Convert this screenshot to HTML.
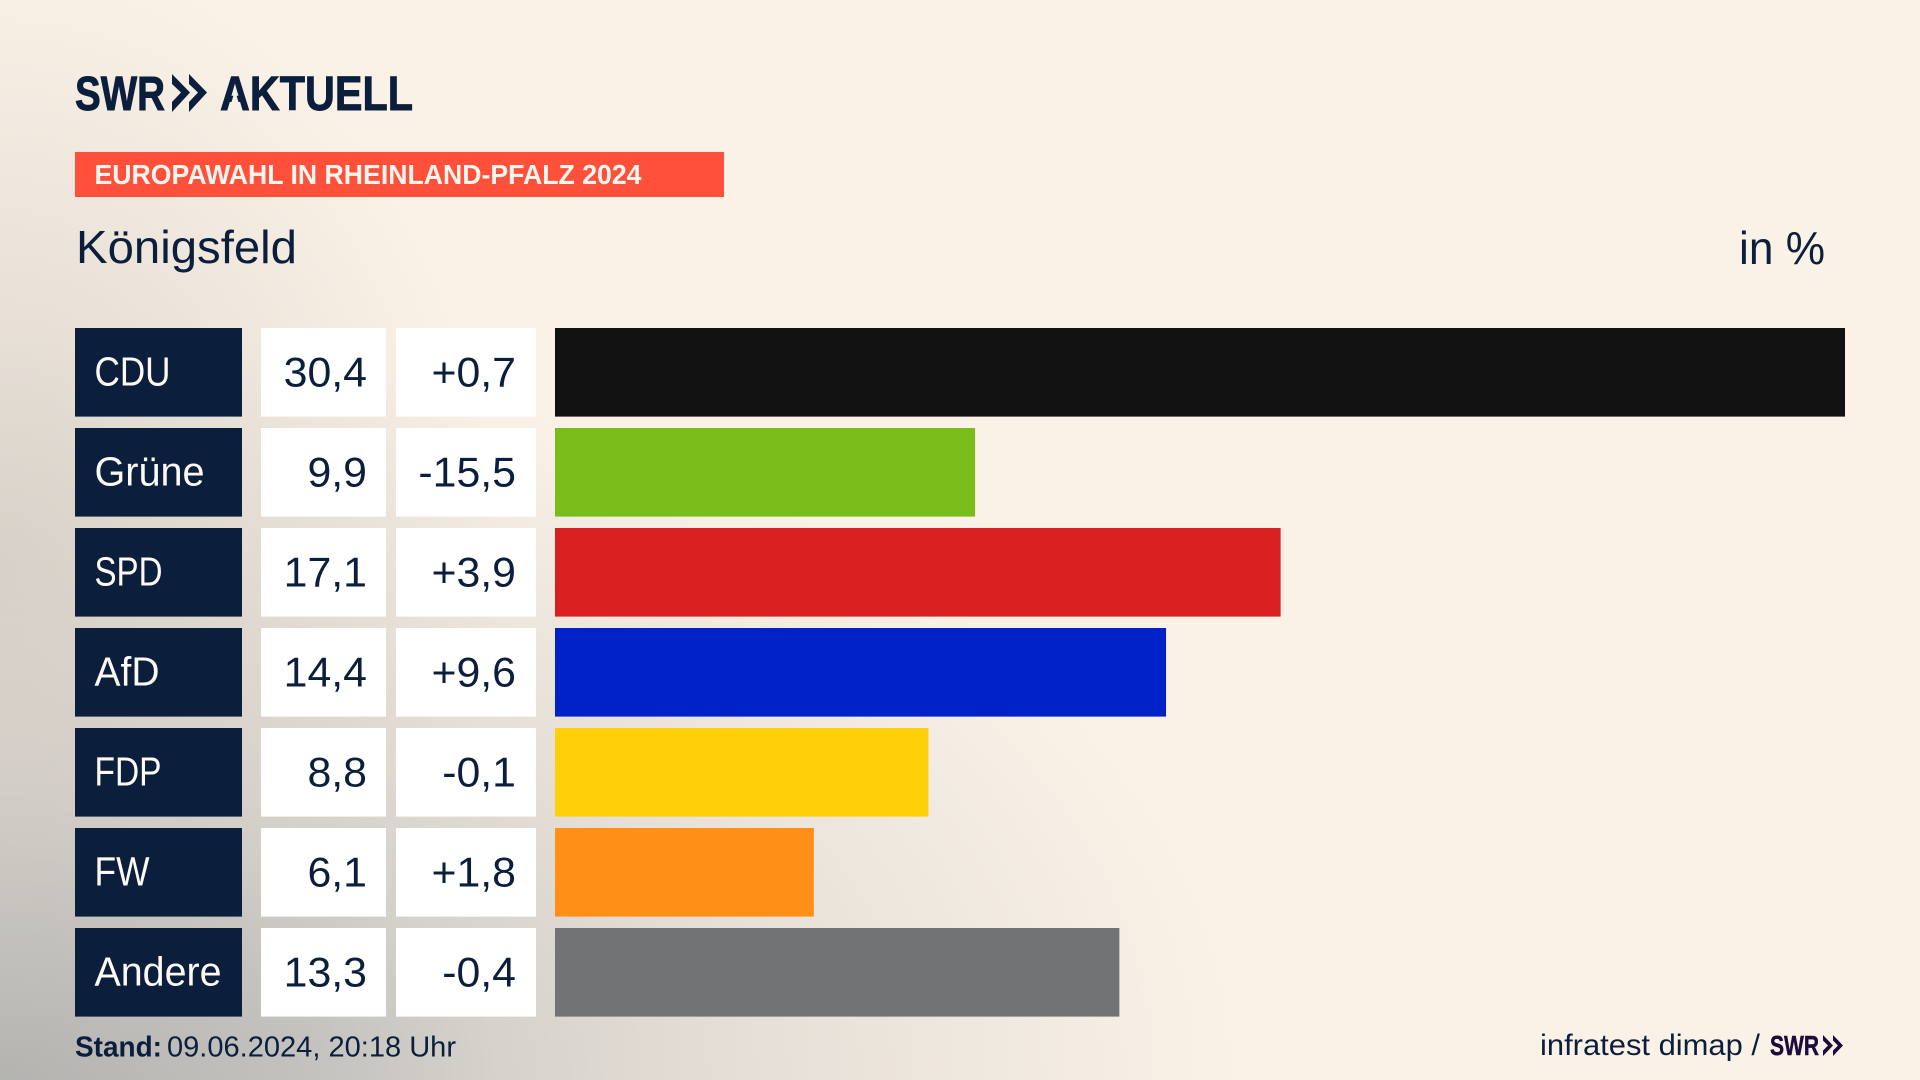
<!DOCTYPE html>
<html lang="de">
<head>
<meta charset="utf-8">
<title>Europawahl in Rheinland-Pfalz 2024 – Königsfeld</title>
<style>
html,body{margin:0;padding:0;width:1920px;height:1080px;overflow:hidden;background:#fbf2e7}
svg{display:block}
text{font-family:"Liberation Sans",sans-serif}
</style>
</head>
<body>
<svg id="chart" width="1920" height="1080" viewBox="0 0 1920 1080" xmlns="http://www.w3.org/2000/svg">
  <defs>
    <radialGradient id="bgCorner" gradientUnits="userSpaceOnUse" cx="0" cy="0" r="1" gradientTransform="translate(0 1080) scale(1250 750)">
      <stop offset="0" stop-color="#b0b0ae"/>
      <stop offset="0.25" stop-color="#c4c2be"/>
      <stop offset="0.4" stop-color="#d6d2cc"/>
      <stop offset="0.6" stop-color="#e6dfd7"/>
      <stop offset="0.8" stop-color="#f0e9df"/>
      <stop offset="1" stop-color="#fbf2e7"/>
    </radialGradient>
    <radialGradient id="bgLeft" gradientUnits="userSpaceOnUse" cx="0" cy="0" r="1" gradientTransform="translate(0 560) scale(500 620)">
      <stop offset="0" stop-color="#cfc9c1" stop-opacity="0.7"/>
      <stop offset="1" stop-color="#cfc9c1" stop-opacity="0"/>
    </radialGradient>
  </defs>
  <rect x="0" y="0" width="1920" height="1080" fill="url(#bgCorner)"/>
  <rect x="0" y="0" width="1920" height="1080" fill="url(#bgLeft)"/>
  <g fill="#0b1f3d">
    <text x="75" y="110" font-size="48" font-weight="700" stroke="#0b1f3d" stroke-width="0.9" textLength="90" lengthAdjust="spacingAndGlyphs">SWR</text>
    <polygon points="172,74 190,92.5 172,112 172,102 181,92.5 172,84"/>
    <polygon points="189,74 207,92.5 189,112 189,102 198,92.5 189,84"/>
    <text x="220" y="110" font-size="48" font-weight="700" stroke="#0b1f3d" stroke-width="0.9" textLength="193" lengthAdjust="spacingAndGlyphs">AKTUELL</text>
    <polygon fill="#f8f0e6" points="235,90 229,111 241,111"/>
  </g>
  <rect x="75" y="152" width="649" height="45" fill="#ff503c"/>
  <text x="94.5" y="184" font-size="27.5" font-weight="700" fill="#fdf6ee" textLength="547" lengthAdjust="spacingAndGlyphs">EUROPAWAHL IN RHEINLAND-PFALZ 2024</text>
  <text x="76" y="263" font-size="46" fill="#0b1f3d" textLength="221" lengthAdjust="spacingAndGlyphs">Königsfeld</text>
  <text x="1739" y="264" font-size="46" fill="#0b1f3d" textLength="86" lengthAdjust="spacingAndGlyphs">in %</text>
  <g id="rows"></g>
  <g>
    <text x="75" y="1056.5" font-size="28.5" font-weight="700" fill="#0b1f3d" textLength="87" lengthAdjust="spacingAndGlyphs">Stand:</text>
    <text x="167" y="1056.5" font-size="28.5" fill="#0b1f3d" textLength="289" lengthAdjust="spacingAndGlyphs">09.06.2024, 20:18 Uhr</text>
    <text x="1540" y="1055" font-size="30" fill="#0b1f3d" textLength="220" lengthAdjust="spacingAndGlyphs">infratest dimap /</text>
    <text x="1770" y="1055" font-size="28" font-weight="700" fill="#1e0a3c" stroke="#1e0a3c" stroke-width="0.5" textLength="49" lengthAdjust="spacingAndGlyphs">SWR</text>
    <polygon fill="#1e0a3c" points="1823,1035 1833,1045.5 1823,1056 1823,1050.5 1828,1045.5 1823,1040.5"/>
    <polygon fill="#1e0a3c" points="1833,1035 1843,1045.5 1833,1056 1833,1050.5 1838,1045.5 1833,1040.5"/>
  </g>
</svg>
<script>
const parties = ["CDU", "Grüne", "SPD", "AfD", "FDP", "FW", "Andere"];
const shares = [30.4, 9.9, 17.1, 14.4, 8.8, 6.1, 13.3];
const changes = [0.7, -15.5, 3.9, 9.6, -0.1, 1.8, -0.4];
const partyColors = ["#121212", "#7abc1a", "#d7201f", "#0021c8", "#ffcf0a", "#ff8f17", "#727374"];

const NS = "http://www.w3.org/2000/svg";
const rowsGroup = document.getElementById("rows");
const xMax = 30.4;
const barLeft = 555;
const barFull = 1290;
const rowTop = 328;
const rowPitch = 100;
const rowHeight = 88.6;
// Approximate advance widths (px) of the house typeface, used to fit party labels.
const glyphAdvance = {C:25,D:25,U:26,G:29,S:21,P:22,A:26,F:20,W:35,f:14,r:15,"ü":23,n:23,e:20,d:23};

function xScale(v) { return v / xMax * barFull; }
function yScale(i) { return rowTop + i * rowPitch; }
function fmtShare(v) { return v.toFixed(1).replace(".", ","); }
function fmtChange(v) { return (v >= 0 ? "+" : "-") + Math.abs(v).toFixed(1).replace(".", ","); }
function labelWidth(s) {
  return Array.from(s).reduce(function (sum, ch) { return sum + (glyphAdvance[ch] || 23); }, 0);
}
function makeRect(x, y, w, h, fill) {
  const r = document.createElementNS(NS, "rect");
  r.setAttribute("x", x);
  r.setAttribute("y", y);
  r.setAttribute("width", w);
  r.setAttribute("height", h);
  r.setAttribute("fill", fill);
  return r;
}
function makeNumber(x, y, str) {
  const t = document.createElementNS(NS, "text");
  t.setAttribute("transform", "translate(" + x + " " + y + ") scale(1.02 1)");
  t.setAttribute("font-size", "42");
  t.setAttribute("fill", "#0b1f3d");
  t.setAttribute("text-anchor", "end");
  t.textContent = str;
  return t;
}

parties.forEach(function (party, i) {
  const y = yScale(i);

  const nameBox = makeRect(75, y, 167, rowHeight, "#0b1f3d");
  
  
  rowsGroup.appendChild(nameBox);

  const nameText = document.createElementNS(NS, "text");
  nameText.setAttribute("x", 94.5);
  nameText.setAttribute("y", y + 57.5);
  nameText.setAttribute("font-size", "41");
  nameText.setAttribute("fill", "#fdfaf5");
  nameText.setAttribute("textLength", labelWidth(party));
  nameText.setAttribute("lengthAdjust", "spacingAndGlyphs");
  nameText.textContent = party;
  
  
  rowsGroup.appendChild(nameText);

  const valueBox = makeRect(261, y, 125, rowHeight, "#ffffff");
  
  
  rowsGroup.appendChild(valueBox);

  const valueText = makeNumber(367, y + 58.5, fmtShare(shares[i]));
  
  
  rowsGroup.appendChild(valueText);

  const changeBox = makeRect(396, y, 140, rowHeight, "#ffffff");
  
  
  rowsGroup.appendChild(changeBox);

  const changeText = makeNumber(516, y + 58.5, fmtChange(changes[i]));
  
  
  rowsGroup.appendChild(changeText);

  const bar = makeRect(barLeft, y, xScale(shares[i]), rowHeight, partyColors[i]);
  
  
  rowsGroup.appendChild(bar);
});
</script>
</body>
</html>
